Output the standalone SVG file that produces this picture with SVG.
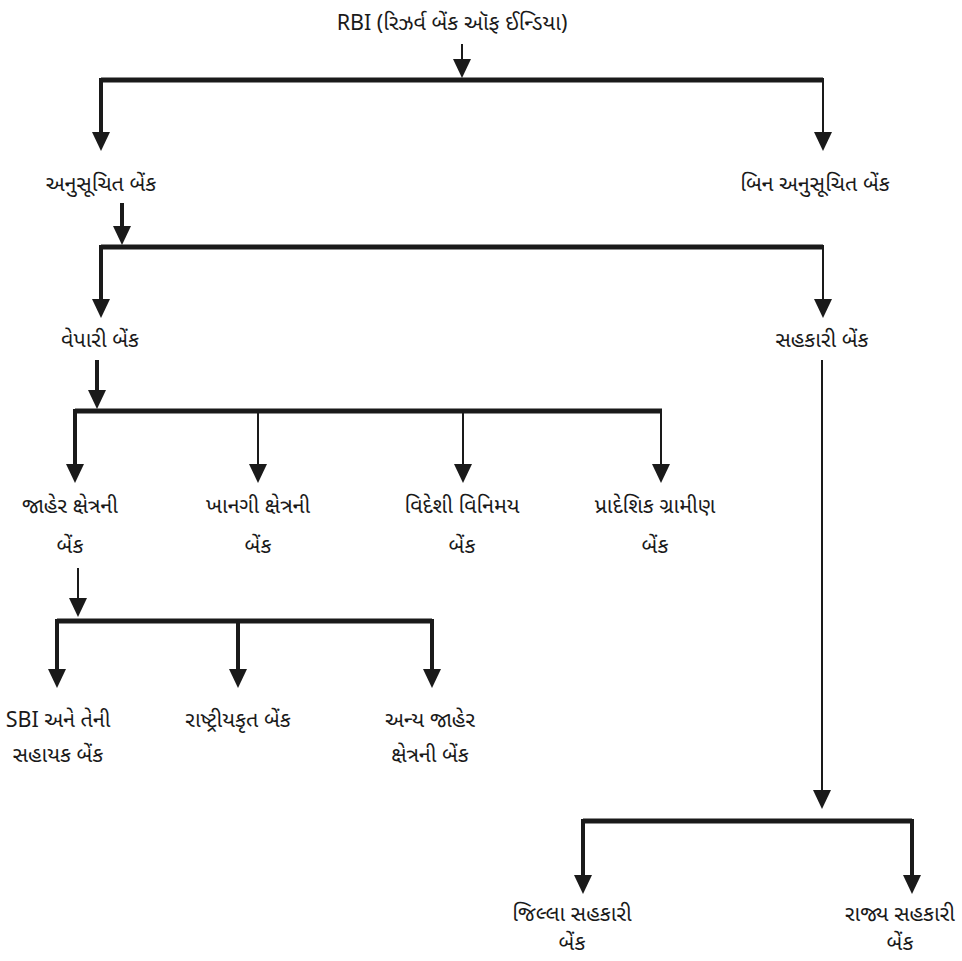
<svg xmlns="http://www.w3.org/2000/svg" width="962" height="961" viewBox="0 0 962 961">
<style>
text{font-family:"Noto Sans Gujarati","Lohit Gujarati","Noto Sans","Liberation Sans",sans-serif;font-size:21.5px;fill:#1a1a1a;text-anchor:middle}
.bar{stroke:#1a1a1a;stroke-width:5;fill:none}
.thick{stroke:#1a1a1a;stroke-width:4;fill:none}
.thin{stroke:#1a1a1a;stroke-width:2;fill:none}
.ah{fill:#1a1a1a}
</style>
<defs>
<polygon id="ah" class="ah" points="-9,-19 9,-19 0,0"/>
</defs>
<g id="connectors">
<line class="thin" x1="462" y1="44" x2="462" y2="62"/><use href="#ah" x="462" y="78"/>
<polyline class="bar" points="101,80 823,80"/>
<line class="thick" x1="101" y1="78" x2="101" y2="133"/><use href="#ah" x="101" y="151"/>
<line class="thin" x1="823" y1="78" x2="823" y2="133"/><use href="#ah" x="823" y="151"/>
<line class="thick" x1="122" y1="203" x2="122" y2="228"/><use href="#ah" x="122" y="245"/>
<polyline class="bar" points="101,247 823,247"/>
<line class="thick" x1="101" y1="245" x2="101" y2="300"/><use href="#ah" x="101" y="318"/>
<line class="thin" x1="823" y1="245" x2="823" y2="300"/><use href="#ah" x="823" y="318"/>
<line class="thick" x1="97" y1="360" x2="97" y2="392"/><use href="#ah" x="97" y="409"/>
<polyline class="bar" points="75,411 662,411"/>
<line class="thick" x1="75" y1="409" x2="75" y2="465"/><use href="#ah" x="75" y="483"/>
<line class="thin" x1="258" y1="409" x2="258" y2="465"/><use href="#ah" x="258" y="483"/>
<line class="thin" x1="463" y1="409" x2="463" y2="465"/><use href="#ah" x="463" y="483"/>
<line class="thin" x1="661" y1="409" x2="661" y2="465"/><use href="#ah" x="661" y="483"/>
<line class="thin" x1="78" y1="568" x2="78" y2="600"/><use href="#ah" x="78" y="617"/>
<polyline class="bar" points="57,621 432,621"/>
<line class="thick" x1="57" y1="619" x2="57" y2="670"/><use href="#ah" x="57" y="688"/>
<line class="thick" x1="238" y1="619" x2="238" y2="670"/><use href="#ah" x="238" y="688"/>
<line class="thick" x1="432" y1="619" x2="432" y2="670"/><use href="#ah" x="432" y="688"/>
<line class="thin" x1="822" y1="360" x2="822" y2="792"/><use href="#ah" x="822" y="809"/>
<polyline class="bar" points="583,821 912,821"/>
<line class="thick" x1="583" y1="819" x2="583" y2="876"/><use href="#ah" x="583" y="894"/>
<line class="thick" x1="912" y1="819" x2="912" y2="876"/><use href="#ah" x="912" y="894"/>
</g>
<g id="rbi"><text x="452" y="30">RBI (રિઝર્વ બેંક ઑફ ઈન્ડિયા)</text></g>
<g id="scheduled"><text x="101" y="191">અનુસૂચિત બેંક</text></g>
<g id="nonscheduled"><text x="815" y="191">બિન અનુસૂચિત બેંક</text></g>
<g id="commercial"><text x="100" y="347">વેપારી બેંક</text></g>
<g id="cooperative"><text x="822" y="347">સહકારી બેંક</text></g>
<g id="public"><text x="70" y="513">જાહેર ક્ષેત્રની</text><text x="70" y="553">બેંક</text></g>
<g id="private"><text x="258" y="513">ખાનગી ક્ષેત્રની</text><text x="258" y="553">બેંક</text></g>
<g id="foreign"><text x="462" y="513">વિદેશી વિનિમય</text><text x="462" y="553">બેંક</text></g>
<g id="rrb"><text x="655" y="513">પ્રાદેશિક ગ્રામીણ</text><text x="655" y="553">બેંક</text></g>
<g id="sbi"><text x="58" y="727">SBI અને તેની</text><text x="58" y="762">સહાયક બેંક</text></g>
<g id="nationalised"><text x="238" y="727">રાષ્ટ્રીયકૃત બેંક</text></g>
<g id="otherpublic"><text x="430" y="727">અન્ય જાહેર</text><text x="430" y="762">ક્ષેત્રની બેંક</text></g>
<g id="district"><text x="572" y="921">જિલ્લા સહકારી</text><text x="572" y="950">બેંક</text></g>
<g id="state"><text x="900" y="921">રાજ્ય સહકારી</text><text x="900" y="950">બેંક</text></g>
</svg>
